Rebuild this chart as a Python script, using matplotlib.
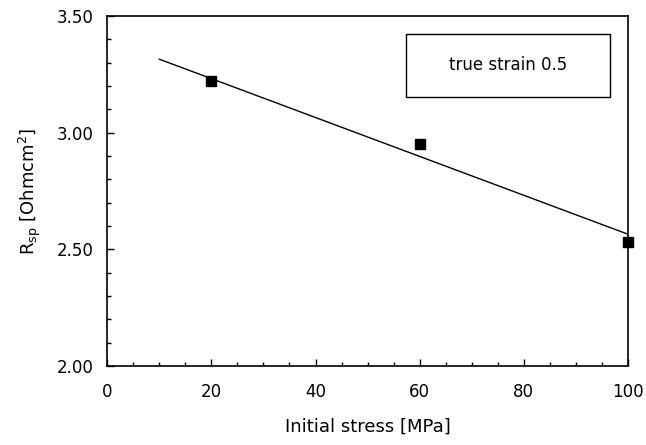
import matplotlib
matplotlib.use("Agg")
import matplotlib.pyplot as plt
from matplotlib.ticker import MultipleLocator
from matplotlib.patches import Rectangle

stress = [20, 60, 100]
rsp = [3.22, 2.95, 2.53]
fit_x = [10, 100]
fit_y = [3.315, 2.565]
xticks = [0, 20, 40, 60, 80, 100]
yticks = [2.00, 2.50, 3.00, 3.50]

plt.rcParams['font.family'] = ['DejaVu Sans']
fig = plt.figure(figsize=(6.46, 4.45), dpi=100)
ax = fig.add_axes([0.166, 0.1775, 0.806, 0.7865])

ax.plot(fit_x, fit_y, color='black', lw=1.0)
ax.plot(stress, rsp, 's', color='black', markersize=7, clip_on=False)

ax.set_xlim(0, 100)
ax.set_ylim(2.0, 3.5)
ax.set_xticks(xticks)
ax.set_yticks(yticks)
ax.set_yticklabels([f"{v:.2f}" for v in yticks])
ax.xaxis.set_minor_locator(MultipleLocator(5))
ax.yaxis.set_minor_locator(MultipleLocator(0.1))
ax.tick_params(which='both', direction='in', top=False, right=False, labelsize=12, width=1)
ax.tick_params(which='major', length=5)
ax.tick_params(axis='x', which='major', pad=12)
ax.tick_params(axis='y', which='major', pad=10)
ax.tick_params(which='minor', length=3)
for s in ax.spines.values():
    s.set_linewidth(1.2)

ax.set_xlabel("Initial stress [MPa]", fontsize=13, labelpad=12)
ax.set_ylabel(r"R$_{\rm sp}$ [Ohmcm$^{2}$]", fontsize=13, labelpad=10)

ax.add_patch(Rectangle((0.573, 0.769), 0.393, 0.18, transform=ax.transAxes,
                       facecolor='white', edgecolor='black', lw=1.0))
ax.text(0.7695, 0.859, "true strain 0.5", transform=ax.transAxes, ha='center', va='center',
        fontsize=12)

fig.savefig("out.png", dpi=100)
